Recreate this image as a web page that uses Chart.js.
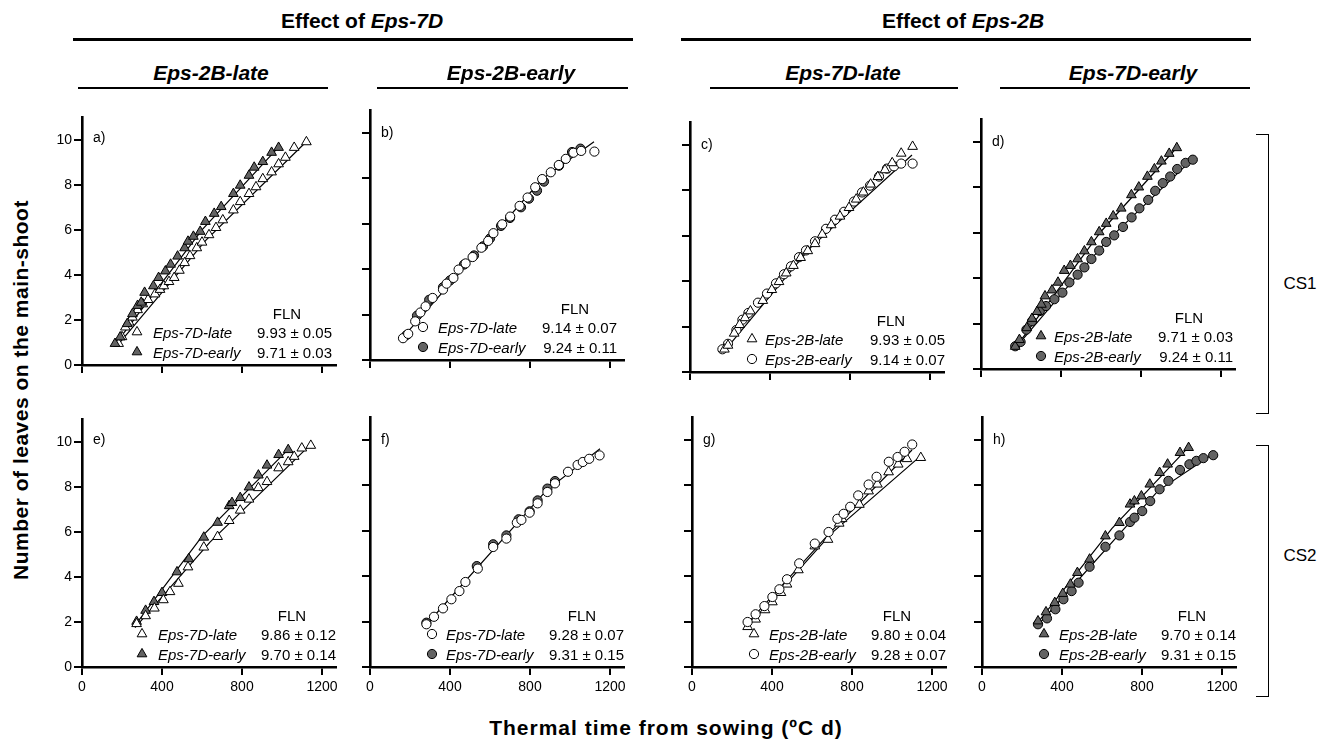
<!DOCTYPE html>
<html>
<head>
<meta charset="utf-8">
<script src="https://cdn.jsdelivr.net/npm/chart.js@4.4.1/dist/chart.umd.min.js"></script>
<style>
body { margin: 0; background: #fff; }
#stage { position: relative; width: 1339px; height: 742px; overflow: hidden; font-family: "Liberation Sans", Arial, sans-serif; color: #000; }
#stage canvas { position: absolute; }
.t { position: absolute; white-space: nowrap; line-height: 1; }
.hl { position: absolute; background: #000; }
</style>
</head>
<body>
<div id="stage"></div>
<script>
// axis ticks
const xTicks = [0, 400, 800, 1200];
const yTicks = [0, 2, 4, 6, 8, 10];

// a) Eps-2B-late, CS1
const aLate = [[183,0.95],[200,1.25],[217,1.68],[235,1.9],[252,2.12],[278,2.45],[304,2.71],[330,2.9],[365,3.15],[390,3.35],[409,3.51],[435,3.7],[461,3.88],[487,4.2],[513,4.54],[540,4.85],[574,5.2],[600,5.45],[635,5.78],[670,6.1],[704,6.44],[757,6.88],[791,7.25],[835,7.61],[870,7.91],[904,8.27],[948,8.57],[983,8.93],[1017,9.22],[1061,9.66],[1122,9.91]];
const aEarly = [[165,0.95],[191,1.24],[226,1.83],[252,2.27],[278,2.64],[296,2.78],[313,3.22],[357,3.51],[383,3.88],[417,4.17],[443,4.47],[478,4.83],[513,5.2],[530,5.49],[557,5.71],[591,5.93],[617,6.37],[661,6.73],[696,7.03],[757,7.61],[791,7.98],[835,8.42],[861,8.78],[904,9.03],[948,9.44],[983,9.66]];
const aLateFit = [[175,0.85],[620,5.55],[1125,9.95]];
const aEarlyFit = [[160,0.85],[600,6.0],[985,9.7]];

// b) Eps-2B-early, CS1
const bLate = [[165,0.96],[191,1.15],[226,1.7],[252,2.09],[278,2.36],[313,2.73],[365,3.1],[383,3.36],[417,3.61],[443,3.98],[478,4.25],[513,4.53],[557,4.94],[591,5.24],[617,5.58],[661,5.97],[701,6.31],[748,6.78],[788,7.15],[826,7.6],[861,7.96],[904,8.26],[944,8.58],[979,8.85],[1017,9.12],[1056,9.2],[1122,9.17]];
const bEarly = [[183,1.1],[235,1.95],[296,2.65],[365,3.2],[400,3.5],[470,4.2],[520,4.6],[565,5.0],[600,5.35],[655,5.9],[700,6.25],[755,6.72],[795,7.1],[835,7.45],[870,7.85],[945,8.55],[1010,9.15],[1052,9.3]];
const bFit = [[160,0.95],[860,7.95],[1120,9.6]];

// c) Eps-7D-late, CS1
const cLate = [[172,1.0],[190,1.17],[221,1.7],[248,2.08],[275,2.38],[302,2.68],[364,3.14],[409,3.62],[445,3.97],[481,4.35],[517,4.68],[553,5.03],[589,5.33],[625,5.64],[661,6.05],[706,6.47],[750,6.85],[795,7.23],[831,7.6],[867,7.91],[903,8.26],[939,8.59],[975,8.89],[1011,9.2],[1056,9.62],[1113,9.92]];
const cEarly = [[162,1.0],[190,1.24],[232,1.85],[262,2.3],[292,2.6],[340,3.05],[385,3.45],[430,3.9],[470,4.3],[505,4.65],[545,5.05],[580,5.35],[625,5.75],[680,6.3],[725,6.7],[770,7.05],[820,7.5],[860,7.9],[900,8.2],[945,8.6],[985,8.95],[1020,9.05],[1056,9.17],[1113,9.17]];
const cFit = [[165,0.85],[600,5.45],[1110,9.55]];

// d) Eps-7D-early, CS1
const dLate = [[171,0.99],[192,1.29],[229,1.81],[255,2.22],[280,2.52],[302,2.84],[320,3.21],[355,3.47],[385,3.81],[416,4.33],[447,4.55],[483,4.84],[517,5.19],[552,5.59],[591,6.03],[626,6.4],[661,6.73],[701,7.07],[752,7.66],[789,8.0],[832,8.47],[867,8.8],[902,9.14],[941,9.48],[979,9.73]];
const dEarly = [[171,1.0],[198,1.19],[227,1.73],[255,2.1],[294,2.55],[325,2.77],[367,3.07],[407,3.36],[442,3.81],[483,4.15],[517,4.47],[552,4.84],[591,5.21],[626,5.59],[666,5.88],[710,6.25],[753,6.67],[792,7.07],[836,7.44],[871,7.84],[909,8.18],[946,8.47],[981,8.8],[1023,9.07],[1059,9.21]];
const dLateFit = [[165,0.85],[600,6.05],[985,9.8]];
const dEarlyFit = [[165,0.85],[620,5.55],[1065,9.3]];

// e) Eps-2B-late, CS2
const eLate = [[273,1.92],[318,2.27],[362,2.61],[407,2.98],[440,3.34],[482,3.71],[530,4.44],[609,5.32],[678,5.79],[736,6.5],[791,6.96],[835,7.45],[882,7.96],[925,8.23],[983,8.84],[1031,9.11],[1061,9.35],[1099,9.72],[1144,9.84]];
const eEarly = [[273,2.02],[318,2.51],[360,2.9],[400,3.3],[475,4.22],[534,4.8],[609,5.76],[678,6.42],[736,7.16],[750,7.3],[791,7.52],[835,7.99],[882,8.52],[925,8.96],[983,9.43],[1031,9.65]];
const eLateFit = [[265,1.75],[640,5.55],[1145,9.9]];
const eEarlyFit = [[265,1.85],[600,5.8],[1035,9.7]];

// f) Eps-2B-early, CS2
const fLate = [[282,1.88],[320,2.21],[365,2.58],[407,2.98],[447,3.34],[477,3.74],[539,4.33],[616,5.28],[682,5.65],[734,6.35],[757,6.47],[798,6.79],[838,7.2],[887,7.7],[925,8.08],[990,8.59],[1038,8.89],[1064,9.02],[1096,9.16],[1148,9.31]];
const fEarly = [[282,1.95],[534,4.44],[616,5.4],[682,5.79],[743,6.5],[798,6.85],[838,7.33],[887,7.85],[925,8.18]];
const fFit = [[270,1.75],[880,7.75],[1150,9.6]];

// g) Eps-7D-late, CS2
const gLate = [[278,1.77],[318,2.1],[365,2.51],[402,2.86],[445,3.27],[475,3.64],[532,4.27],[614,5.32],[680,5.61],[736,6.32],[750,6.52],[837,7.15],[883,7.74],[927,8.04],[983,8.58],[1031,8.92],[1075,9.16],[1144,9.21]];
const gEarly = [[278,1.98],[318,2.32],[362,2.68],[402,3.08],[437,3.42],[475,3.86],[536,4.56],[614,5.43],[683,5.94],[727,6.52],[758,6.74],[791,7.05],[831,7.55],[883,8.03],[923,8.37],[984,9.03],[1028,9.24],[1063,9.47],[1101,9.79]];
const gLateFit = [[270,1.7],[700,5.9],[1145,9.3]];
const gEarlyFit = [[270,1.85],[700,6.0],[1100,9.55]];

// h) Eps-7D-early, CS2
const hLate = [[280,2.02],[320,2.42],[364,2.83],[404,3.23],[442,3.64],[477,4.15],[538,4.74],[617,5.76],[687,6.35],[740,7.16],[762,7.3],[797,7.52],[839,8.04],[888,8.55],[928,8.92],[990,9.43],[1033,9.65]];
const hEarly = [[280,1.88],[325,2.14],[367,2.54],[407,2.98],[448,3.34],[483,3.71],[538,4.41],[617,5.29],[687,5.79],[740,6.38],[762,6.57],[801,6.86],[841,7.3],[888,7.82],[932,8.19],[990,8.67],[1037,8.92],[1072,9.07],[1107,9.19],[1156,9.32]];
const hLateFit = [[270,1.85],[650,6.1],[1035,9.7]];
const hEarlyFit = [[270,1.75],[880,7.75],[1160,9.4]];

// legend names and final leaf numbers
const names7D = ['Eps-7D-late', 'Eps-7D-early'];
const names2B = ['Eps-2B-late', 'Eps-2B-early'];
const flnA = ['9.93 \u00b1 0.05', '9.71 \u00b1 0.03'];
const flnB = ['9.14 \u00b1 0.07', '9.24 \u00b1 0.11'];
const flnC = ['9.93 \u00b1 0.05', '9.14 \u00b1 0.07'];
const flnD = ['9.71 \u00b1 0.03', '9.24 \u00b1 0.11'];
const flnE = ['9.86 \u00b1 0.12', '9.70 \u00b1 0.14'];
const flnF = ['9.28 \u00b1 0.07', '9.31 \u00b1 0.15'];
const flnG = ['9.80 \u00b1 0.04', '9.28 \u00b1 0.07'];
const flnH = ['9.70 \u00b1 0.14', '9.31 \u00b1 0.15'];

const FONT = '"Liberation Sans", Arial, sans-serif';
const GRAY = '#636363';
const MARK = {
  triW: { style: 'triangle', r: 5.6, fill: '#ffffff' },
  triG: { style: 'triangle', r: 5.6, fill: GRAY },
  cirW: { style: 'circle', r: 4.6, fill: '#ffffff' },
  cirG: { style: 'circle', r: 4.6, fill: GRAY }
};

// panel placement: ox/oy = page pixel of (0,0)
const panels = [
  { tag: 'a)', ox: 82,  oy: 365, yLab: true,  xLab: false, series: [aLate, aEarly], fits: [aLateFit, aEarlyFit], marks: ['triW','triG'], top: 1, names: names7D, fln: flnA, lg: [55, 71, 250, 205] },
  { tag: 'b)', ox: 370, oy: 360, yLab: false, xLab: false, series: [bLate, bEarly], fits: [bFit], marks: ['cirW','cirG'], top: 0, names: names7D, fln: flnB, lg: [53, 68, 247, 205] },
  { tag: 'c)', ox: 690, oy: 372, yLab: false, xLab: false, series: [cLate, cEarly], fits: [cFit], marks: ['triW','cirW'], top: 0, names: names2B, fln: flnC, lg: [62, 75, 255, 201] },
  { tag: 'd)', ox: 981, oy: 369, yLab: false, xLab: false, series: [dLate, dEarly], fits: [dLateFit, dEarlyFit], marks: ['triG','cirG'], top: 0, names: names2B, fln: flnD, lg: [60, 73, 252, 208] },
  { tag: 'e)', ox: 82,  oy: 667, yLab: true,  xLab: true,  series: [eLate, eEarly], fits: [eLateFit, eEarlyFit], marks: ['triW','triG'], top: 0, names: names7D, fln: flnE, lg: [60, 76, 254, 210] },
  { tag: 'f)', ox: 370, oy: 667, yLab: false, xLab: true,  series: [fLate, fEarly], fits: [fFit], marks: ['cirW','cirG'], top: 0, names: names7D, fln: flnF, lg: [62, 76, 254, 212] },
  { tag: 'g)', ox: 692, oy: 667, yLab: false, xLab: true,  series: [gLate, gEarly], fits: [gLateFit, gEarlyFit], marks: ['triW','cirW'], top: 1, names: names2B, fln: flnG, lg: [62, 77, 254, 205] },
  { tag: 'h)', ox: 982, oy: 667, yLab: false, xLab: true,  series: [hLate, hEarly], fits: [hLateFit, hEarlyFit], marks: ['triG','cirG'], top: 0, names: names2B, fln: flnH, lg: [62, 77, 254, 210] }
];

const stage = document.getElementById('stage');
const PLOT_W = 254, PLOT_H = 250, YW = 36, XH = 34, PAD_T = 8, PAD_R = 8;

function addText(html, x, y, align, css) {
  const d = document.createElement('div');
  d.className = 't';
  d.innerHTML = html;
  d.style.left = x + 'px';
  d.style.top = y + 'px';
  const tx = align === 'center' ? '-50%' : align === 'right' ? '-100%' : '0';
  d.style.transform = 'translate(' + tx + ',-50%)';
  Object.assign(d.style, css || {});
  stage.appendChild(d);
  return d;
}
function addLine(x, y, w, h) {
  const d = document.createElement('div');
  d.className = 'hl';
  d.style.left = x + 'px'; d.style.top = y + 'px';
  d.style.width = w + 'px'; d.style.height = h + 'px';
  stage.appendChild(d);
}
function markerSvg(key) {
  const m = MARK[key];
  let shape;
  if (m.style === 'triangle') {
    const r = m.r, c = 7;
    const pts = [[c, c - r], [c + 0.866 * r, c + 0.5 * r], [c - 0.866 * r, c + 0.5 * r]].map(p => p.join(',')).join(' ');
    shape = '<polygon points="' + pts + '" fill="' + m.fill + '" stroke="#000" stroke-width="1"/>';
  } else {
    shape = '<circle cx="7" cy="7" r="' + m.r + '" fill="' + m.fill + '" stroke="#000" stroke-width="1"/>';
  }
  return '<svg width="14" height="14" style="display:block">' + shape + '</svg>';
}

panels.forEach(p => {
  const cv = document.createElement('canvas');
  const W = YW + PLOT_W + PAD_R, H = PAD_T + PLOT_H + XH;
  cv.width = W; cv.height = H;
  cv.style.left = (p.ox - YW) + 'px';
  cv.style.top = (p.oy - PLOT_H - PAD_T) + 'px';
  cv.style.width = W + 'px'; cv.style.height = H + 'px';
  stage.appendChild(cv);

  const datasets = [];
  p.fits.forEach(f => datasets.push({
    data: f.map(([x, y]) => ({ x, y })),
    showLine: true, borderColor: '#000', borderWidth: 1.2, pointRadius: 0, order: 3, clip: false
  }));
  p.series.forEach((s, i) => {
    const m = MARK[p.marks[i]];
    datasets.push({
      data: s.map(([x, y]) => ({ x, y })),
      showLine: false, pointStyle: m.style, pointRadius: m.r,
      backgroundColor: m.fill, borderColor: '#000', borderWidth: 1,
      order: i === p.top ? 1 : 2, clip: false
    });
  });

  const axisCommon = {
    type: 'linear',
    border: { display: true, color: '#000', width: 2.6 },
    grid: { drawOnChartArea: false, drawTicks: true, tickLength: 8, color: '#000', lineWidth: 2 }
  };

  new Chart(cv, {
    type: 'scatter',
    data: { datasets },
    options: {
      responsive: false, animation: false, devicePixelRatio: 1,
      layout: { padding: { top: PAD_T, right: PAD_R, left: 0, bottom: 0 }, autoPadding: false },
      plugins: { legend: { display: false }, tooltip: { enabled: false } },
      scales: {
        x: Object.assign({}, axisCommon, {
          min: 0, max: 1270,
          afterBuildTicks: s => { s.ticks = xTicks.map(v => ({ value: v })); },
          afterFit: s => { s.height = XH; },
          ticks: { display: p.xLab, color: '#000', font: { family: FONT, size: 14 }, padding: 4, maxRotation: 0, callback: v => String(v) }
        }),
        y: Object.assign({}, axisCommon, {
          min: 0, max: 11,
          afterBuildTicks: s => { s.ticks = yTicks.map(v => ({ value: v })); },
          afterFit: s => { s.width = YW; },
          ticks: { display: p.yLab, color: '#000', font: { family: FONT, size: 14 }, padding: 2, callback: v => String(v) }
        })
      }
    }
  });

  // panel letter
  addText(p.tag, p.ox + 11, p.oy - 228, 'left', { fontSize: '14px' });
  // FLN legend
  const [mx, tx, vr, fx] = p.lg;
  addText('FLN', p.ox + fx, p.oy - 52, 'center', { fontSize: '15px' });
  [0, 1].forEach(i => {
    const y = p.oy - 33 + i * 20;
    addText(markerSvg(p.marks[i]), p.ox + mx, y, 'center');
    addText('<i>' + p.names[i] + '</i>', p.ox + tx, y, 'left', { fontSize: '15px' });
    addText(p.fln[i], p.ox + vr, y, 'right', { fontSize: '15px' });
  });
});

// group headers
addText('Effect of <i>Eps-7D</i>', 362, 20, 'center', { fontSize: '21px', fontWeight: 'bold' });
addLine(73, 38, 560, 3);
addText('Effect of <i>Eps-2B</i>', 963, 20, 'center', { fontSize: '21px', fontWeight: 'bold' });
addLine(681, 38, 570, 3);

addText('<i>Eps-2B-late</i>', 211, 72, 'center', { fontSize: '21px', fontWeight: 'bold' });
addLine(78, 87, 250, 1.5);
addText('<i>Eps-2B-early</i>', 511, 72, 'center', { fontSize: '21px', fontWeight: 'bold' });
addLine(377, 87, 251, 1.5);
addText('<i>Eps-7D-late</i>', 843, 72, 'center', { fontSize: '21px', fontWeight: 'bold' });
addLine(710, 87, 248, 1.5);
addText('<i>Eps-7D-early</i>', 1133, 72, 'center', { fontSize: '21px', fontWeight: 'bold' });
addLine(1000, 87, 250, 1.5);

// axis titles
addText('Number of leaves on the main-shoot', 20, 390, 'center', { fontSize: '21px', fontWeight: 'bold', letterSpacing: '0.5px', transform: 'translate(-50%,-50%) rotate(-90deg)' });
addText('Thermal time from sowing (\u00baC d)', 666, 727, 'center', { fontSize: '21px', fontWeight: 'bold', letterSpacing: '1px' });

// CS brackets
addLine(1268, 134, 1.3, 280);
addLine(1256, 134, 13, 1.3);
addLine(1256, 413, 13, 1.3);
addText('CS1', 1300, 283, 'center', { fontSize: '17px' });
addLine(1268, 445, 1.3, 252);
addLine(1256, 445, 13, 1.3);
addLine(1256, 696, 13, 1.3);
addText('CS2', 1300, 555, 'center', { fontSize: '17px' });
</script>
</body>
</html>
